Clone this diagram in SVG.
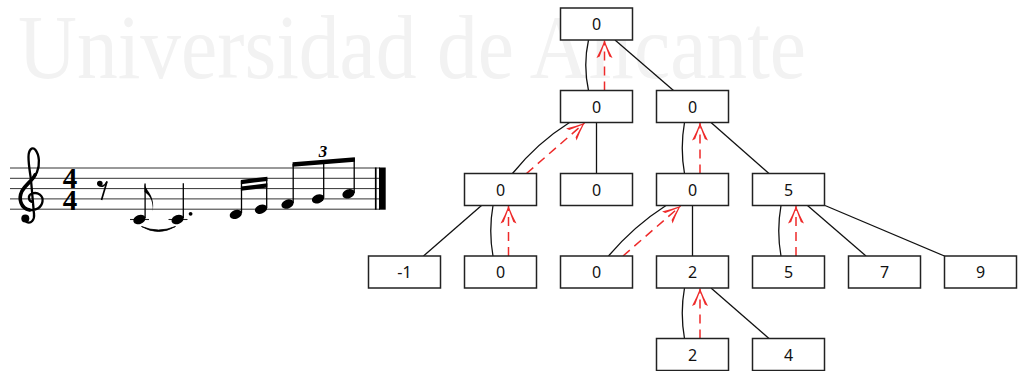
<svg xmlns="http://www.w3.org/2000/svg" width="1019" height="371" viewBox="0 0 1019 371">
<style>
.node rect{fill:#fff;stroke:#222;stroke-width:1.5}
.node text{font-family:"Noto Sans","Open Sans",sans-serif;font-size:16px;fill:#111;text-anchor:middle}
.edge{fill:none;stroke:#111;stroke-width:1.3}
.ptr{fill:none;stroke:#ee2a2a;stroke-width:1.5;stroke-dasharray:9 6;marker-end:url(#ah)}
.staff{stroke:#333;stroke-width:1}
.stem{stroke:#000;stroke-width:1.3}
.head{fill:#000}
.ledger{stroke:#222;stroke-width:1.1}
</style>
<defs>
<marker id="ah" viewBox="-19 -10 21 20" refX="0" refY="0" markerWidth="21" markerHeight="20" markerUnits="userSpaceOnUse" orient="auto">
<path d="M0,0 Q-9,-3.5 -17.5,-8 L-16,-4.8 Q-8,-1.8 -3,0 Q-8,1.8 -16,4.8 L-17.5,8 Q-9,3.5 0,0 Z" fill="#ee2a2a"/>
</marker>
</defs>
<rect width="1019" height="371" fill="#fff"/>
<text x="18" y="78" font-family="Liberation Serif,serif" font-size="92" textLength="788" lengthAdjust="spacingAndGlyphs" fill="#f2f2f2">Universidad de Alicante</text>

<g id="score">
<g id="staff">
<line class="staff" x1="10" y1="168" x2="380" y2="168"/>
<line class="staff" x1="10" y1="178.3" x2="380" y2="178.3"/>
<line class="staff" x1="10" y1="188.6" x2="380" y2="188.6"/>
<line class="staff" x1="10" y1="198.9" x2="380" y2="198.9"/>
<line class="staff" x1="10" y1="209.2" x2="380" y2="209.2"/>
<rect x="374.9" y="167.5" width="1.7" height="42.2" fill="#000"/>
<rect x="379" y="167.5" width="6.7" height="42.2" fill="#000"/>
</g>
<g id="clef">
<path d="M33,202 C28,201.5 27.5,195 32,193.5 C38,191.5 43.5,196 42.5,201.5 C41.5,208 35,211 29.5,210 C21,208.5 18,199 22,191 C26,184 34,180 37,172 C40,165 39.5,155 35.5,150 C32,146 28.5,150 28.5,157 C28.5,165 30,172 31,180 L34,214 C34.8,220 31,224 26.5,222" fill="none" stroke="#000" stroke-width="2.3" stroke-linecap="round"/>
<path d="M29.5,210 C21,208.5 18,199 22,191 C26,184 32,181 35,175" fill="none" stroke="#000" stroke-width="3.6" stroke-linecap="round"/>
<circle cx="25.3" cy="218.5" r="4" fill="#000"/>
</g>
<g id="time" font-family="Liberation Serif,serif" font-weight="bold" font-size="29" text-anchor="middle">
<text x="70" y="188">4</text>
<text x="70" y="209.5">4</text>
</g>
<g id="rest">
<circle cx="99.8" cy="183.6" r="2.8" fill="#000"/>
<path d="M99.5,185.5 Q103.5,188 107,181.5" fill="none" stroke="#000" stroke-width="1.5"/>
<line x1="107" y1="181.5" x2="101.5" y2="200" stroke="#000" stroke-width="1.7"/>
</g>
<g id="notes">
<line class="ledger" x1="130" y1="219.5" x2="149" y2="219.5"/>
<ellipse class="head" cx="139.4" cy="219.5" rx="6.3" ry="4.4" transform="rotate(-20 139.4 219.5)"/>
<line class="stem" x1="145.1" y1="218" x2="145.1" y2="183.5"/>
<path d="M144.5,183.3 C145.5,191 155.5,195 152.8,211.5 C153.5,199 148,194 144.5,192 Z" fill="#000"/>

<line class="ledger" x1="168.5" y1="219.5" x2="187.5" y2="219.5"/>
<ellipse class="head" cx="177.6" cy="219.5" rx="6.3" ry="4.4" transform="rotate(-20 177.6 219.5)"/>
<line class="stem" x1="183.3" y1="218" x2="183.3" y2="183.3"/>
<circle cx="190.6" cy="213.8" r="1.9" fill="#000"/>
<path d="M141.5,226.5 Q158.5,236.5 175.5,226.5 Q158.5,233.5 141.5,226.5 Z" fill="#000" stroke="#000" stroke-width="0.8"/>

<ellipse class="head" cx="235.8" cy="214.35" rx="6.3" ry="4.4" transform="rotate(-20 235.8 214.35)"/>
<line class="stem" x1="241.5" y1="213" x2="241.5" y2="181"/>
<ellipse class="head" cx="261" cy="209.2" rx="6.3" ry="4.4" transform="rotate(-20 261 209.2)"/>
<line class="stem" x1="266.7" y1="208" x2="266.7" y2="178"/>
<polygon points="240.85,180 267.35,176.7 267.35,180.9 240.85,184.2" fill="#000"/>
<polygon points="240.85,186.6 267.35,183.3 267.35,187.5 240.85,190.8" fill="#000"/>

<ellipse class="head" cx="287.5" cy="204.05" rx="6.3" ry="4.4" transform="rotate(-20 287.5 204.05)"/>
<line class="stem" x1="293.2" y1="203" x2="293.2" y2="164"/>
<ellipse class="head" cx="318" cy="198.9" rx="6.3" ry="4.4" transform="rotate(-20 318 198.9)"/>
<line class="stem" x1="323.7" y1="198" x2="323.7" y2="161"/>
<ellipse class="head" cx="348.5" cy="193.75" rx="6.3" ry="4.4" transform="rotate(-20 348.5 193.75)"/>
<line class="stem" x1="354.2" y1="193" x2="354.2" y2="158"/>
<polygon points="292.55,162.3 354.85,157.3 354.85,161.8 292.55,166.8" fill="#000"/>
<text x="323" y="157.3" font-family="Liberation Serif,serif" font-style="italic" font-weight="bold" font-size="17" text-anchor="middle">3</text>
</g>
</g>

<g id="connectors">
<path class="edge" d="M588.5,40 Q583,65 588.5,90.5"/>
<path class="ptr" d="M604.5,90.5 L604.5,40.5"/>
<path class="edge" d="M615,40 L673.5,90.5"/>
<path class="edge" d="M569.5,122.5 Q537,143 512.5,173.5"/>
<path class="ptr" d="M526.5,173.5 L584.5,123"/>
<path class="edge" d="M596.5,122.5 L596.5,173.5"/>
<path class="edge" d="M684.5,122.5 Q680,148 684.5,173.5"/>
<path class="ptr" d="M700,173.5 L700,123"/>
<path class="edge" d="M711,122.5 L769,173.5"/>
<path class="edge" d="M481.5,205.5 L423.5,256"/>
<path class="edge" d="M493,205.5 Q488.5,231 493,256"/>
<path class="ptr" d="M508.5,256 L508.5,206"/>
<path class="edge" d="M666,205.5 Q634,226 608.5,256"/>
<path class="ptr" d="M623,256 L680.5,206"/>
<path class="edge" d="M692.5,205.5 L692.5,256"/>
<path class="edge" d="M781,205.5 Q776.5,231 781,256"/>
<path class="ptr" d="M796,256 L796,206"/>
<path class="edge" d="M807.5,205.5 L866,256"/>
<path class="edge" d="M825,205.5 L944.5,256"/>
<path class="edge" d="M684.5,288 Q680,313 684.5,338.5"/>
<path class="ptr" d="M700,338.5 L700,288.5"/>
<path class="edge" d="M711,288 L769,338.5"/>
</g>

<g id="n_root" class="node"><rect x="560.5" y="8" width="72" height="32"/><text x="596.5" y="30">0</text></g>
<g id="n_1a" class="node"><rect x="560.5" y="90.5" width="72" height="32"/><text x="596.5" y="112.5">0</text></g>
<g id="n_1b" class="node"><rect x="656.5" y="90.5" width="72" height="32"/><text x="692.5" y="112.5">0</text></g>
<g id="n_2a" class="node"><rect x="464.5" y="173.5" width="72" height="32"/><text x="500.5" y="195.5">0</text></g>
<g id="n_2b" class="node"><rect x="560.5" y="173.5" width="72" height="32"/><text x="596.5" y="195.5">0</text></g>
<g id="n_2c" class="node"><rect x="656.5" y="173.5" width="72" height="32"/><text x="692.5" y="195.5">0</text></g>
<g id="n_2d" class="node"><rect x="752.5" y="173.5" width="72" height="32"/><text x="788.5" y="195.5">5</text></g>
<g id="n_3a" class="node"><rect x="368.5" y="256" width="72" height="32"/><text x="404.5" y="278">-1</text></g>
<g id="n_3b" class="node"><rect x="464.5" y="256" width="72" height="32"/><text x="500.5" y="278">0</text></g>
<g id="n_3c" class="node"><rect x="560.5" y="256" width="72" height="32"/><text x="596.5" y="278">0</text></g>
<g id="n_3d" class="node"><rect x="656.5" y="256" width="72" height="32"/><text x="692.5" y="278">2</text></g>
<g id="n_3e" class="node"><rect x="752.5" y="256" width="72" height="32"/><text x="788.5" y="278">5</text></g>
<g id="n_3f" class="node"><rect x="848.5" y="256" width="72" height="32"/><text x="884.5" y="278">7</text></g>
<g id="n_3g" class="node"><rect x="944.5" y="256" width="72" height="32"/><text x="980.5" y="278">9</text></g>
<g id="n_4a" class="node"><rect x="656.5" y="338.5" width="72" height="32"/><text x="692.5" y="360.5">2</text></g>
<g id="n_4b" class="node"><rect x="752.5" y="338.5" width="72" height="32"/><text x="788.5" y="360.5">4</text></g>
</svg>
